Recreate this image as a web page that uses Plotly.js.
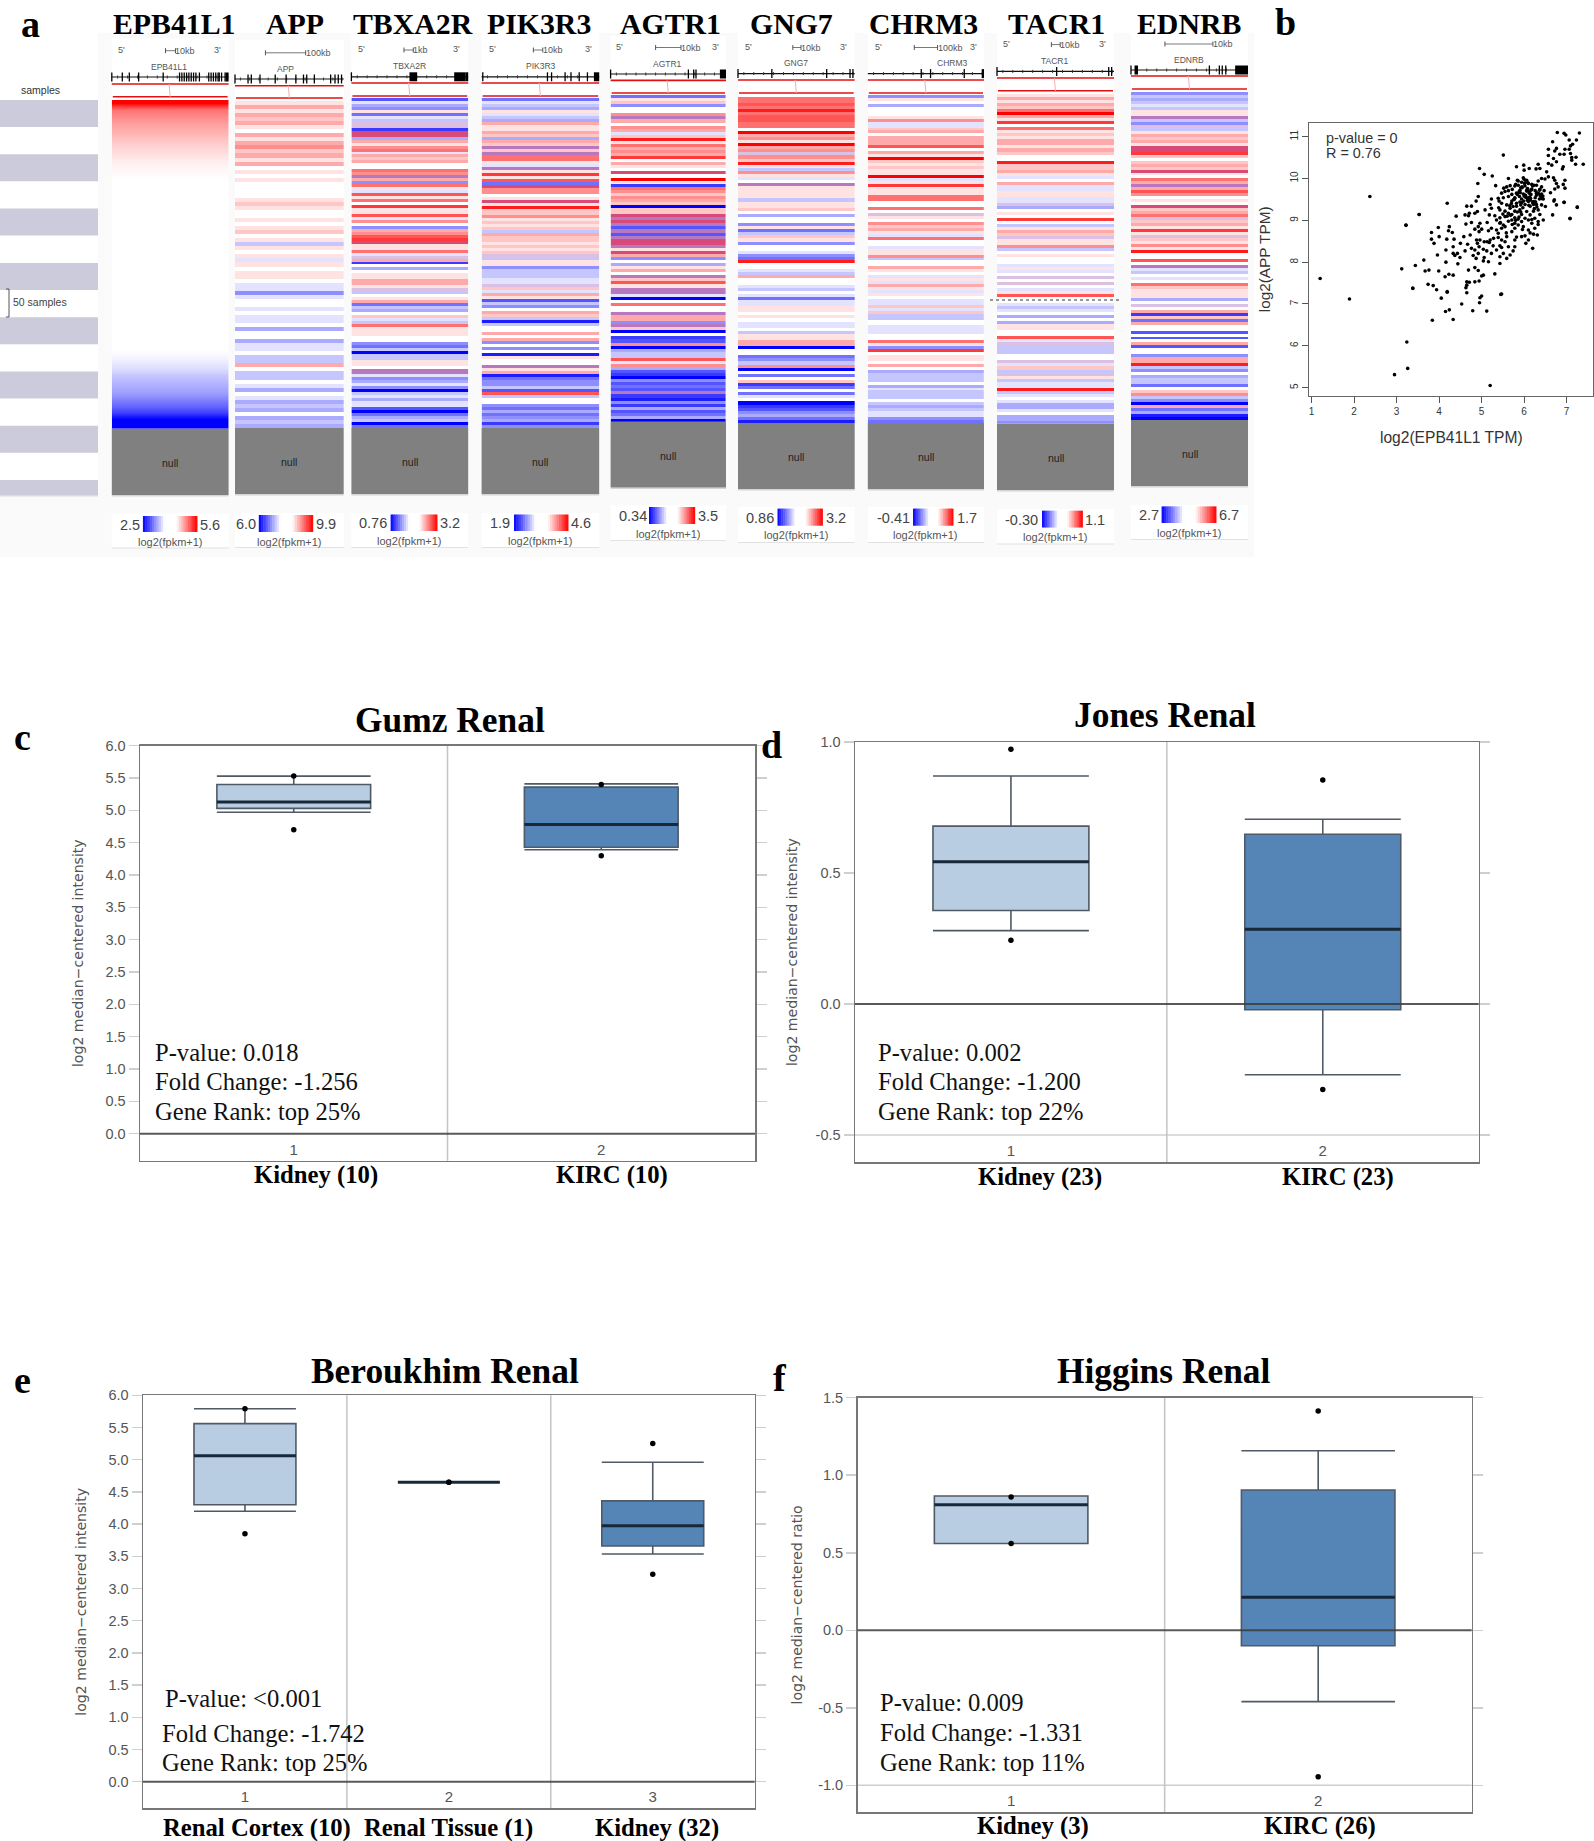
<!DOCTYPE html>
<html><head><meta charset="utf-8">
<script src="https://cdn.plot.ly/plotly-3.0.1.min.js"></script>
<style>html,body{margin:0;padding:0;background:#fff;overflow:hidden}#p{width:1594px;height:1841px}</style>
</head><body><div id="p"></div>
<script>
// ---------- heat stripes (top to bottom; -9 low .. +9 high; 10-12 = mixed, purple-looking rows) ----------
const EPB41L1_rows=[9,5,4.2,3.6,3,2.5,2,1.5,1.1,0.7,0.4,0.2,0,0,0,0,0,0,0,0,0,0,0,0,0,0,0,0,0,0,0,0,0,0,0,0,0,0,0,0,-0.3,-0.7,-1.2,-2,-2.5,-3,-3.6,-4.5,-5.5,-7,-9,-9];
const APP_rows=[1,3,1,3,2,3,1,0,3,1,3,4,2,3,1,3,0,1,0,1,0,0,0,0,1,2,1,0,0,1,0,1,2,0,1,-2,1,0,1,-1,1,0,1,1,0,-1,-1,-4,-1,0,0,-1,0,-1,-1,0,-3,0,0,-3,-1,-1,0,-2,-2,3,0,-2,-2,0,-1,-3,0,-1,-3,-2,-3,0,-3,-2,-3];
const TBXA2R_rows=[-6,-1,-3,-4,1,-5,-1,-2,10,10,-7,12,12,-3,3,1,4,5,-1,3,2,3,0,0,5,4,11,3,-4,5,1,-1,6,1,5,0,7,1,1,6,-1,4,0,-4,3,4,6,7,12,1,1,5,-1,10,3,-7,0,-3,0,1,1,3,3,1,10,-2,0,1,3,-5,-2,-3,0,2,-1,-2,5,1,1,1,0,0,-4,-5,-2,-9,-2,-2,1,1,0,11,11,-1,-4,-3,-1,-4,-9,-2,-1,-3,-1,-1,-6,-9,-5,-3,-2,-9,-5];
const PIK3R3_rows=[-5,-1,-2,-3,1,-1,-2,-3,3,1,1,3,2,-3,3,2,11,2,11,5,5,1,-1,11,1,7,1,6,-5,12,4,4,0,1,12,1,8,2,2,4,1,2,1,2,-2,3,2,2,1,2,1,2,10,-2,1,1,-4,-2,-2,-2,-1,-1,10,2,-1,3,1,-6,-2,-4,0,3,2,-2,-8,-2,0,0,3,0,3,-4,0,-4,0,-8,1,0,0,11,1,3,-8,-5,-4,-4,-2,-6,6,-2,0,0,-4,-5,-3,-5,-4,-3,-7,-4];
const AGTR1_rows=[-5,1,2,-4,0,0,4,11,3,0,4,3,-1,2,8,1,5,3,4,3,7,0,3,1,0,12,0,9,1,-7,5,4,2,4,3,2,-9,2,2,12,11,12,11,-6,11,-6,11,12,12,11,1,12,3,-4,0,-3,1,3,0,11,2,6,1,11,11,-1,-9,0,5,0,0,11,3,3,-4,11,2,-9,0,-7,-6,4,-9,-3,-2,-2,6,-1,4,-3,-6,-7,-9,-4,-6,-5,-6,11,-7,-8,-4,-7,-3,-6,-5,-3,-9];
const GNG7_rows=[5,5,6,5,8,5,6,6,5,5,0,9,3,4,1,9,3,4,10,4,2,8,1,-2,4,1,-1,0,11,1,1,1,1,-2,1,1,2,0,-3,0,0,-4,1,-5,-2,2,1,-4,0,0,-1,-4,-5,8,0,0,-1,-2,3,0,0,-1,-2,0,-1,-5,-1,-1,1,1,0,1,0,-1,-1,0,-2,1,1,3,3,-9,0,0,-5,-4,-2,4,-9,0,-5,0,2,-7,-5,0,-5,-1,0,-9,-7,-6,-4,-3,-5,-8];
const CHRM3_rows=[-4,1,0,-3,0,0,0,1,4,-1,-1,2,3,0,3,3,3,6,0,3,1,9,2,1,2,1,1,9,-1,1,7,1,1,1,5,5,0,0,5,0,10,1,0,4,2,3,1,-1,5,0,0,-1,1,1,4,-2,0,0,3,1,0,-1,1,-1,3,1,-1,1,0,-1,-1,2,-1,2,-2,-2,0,0,-1,-1,-1,0,0,5,1,-4,7,0,1,1,0,3,0,-3,-2,-2,-2,0,-3,-1,-2,-2,-2,0,-2,-3,-2,-1,-1,-4,-5];
const TACR1_rows=[1,3,1,3,2,5,9,3,1,7,0,5,1,2,1,3,3,1,3,2,0,0,8,2,2,3,1,-1,0,3,-1,-1,1,1,-1,-1,10,-3,0,1,0,7,0,-2,1,3,2,10,1,1,4,-2,0,1,0,0,-1,1,-1,0,10,0,10,0,-1,1,6,0,0,-1,-2,-1,0,-3,0,-3,1,1,0,0,6,-1,10,-2,-2,-2,0,0,10,-1,2,-2,10,1,-2,-1,-1,8,-2,-1,0,-1,-3,-3,-1,0,-3,-3,-4];
const EDNRB_rows=[-4,-2,-3,-2,-1,-2,1,1,11,-2,-4,10,-2,1,3,2,3,1,12,12,7,2,0,2,3,2,12,1,0,5,3,11,3,6,4,0,1,0,12,2,3,5,10,2,3,1,7,1,10,2,1,4,1,8,0,0,6,0,11,-1,-2,0,-1,0,5,2,1,1,1,-3,0,10,0,3,-7,2,-5,3,0,0,-6,0,-6,0,3,-6,0,0,-4,3,3,8,-2,-4,0,-3,-2,-2,-5,0,2,4,-2,-4,-9,3,-5,-3,-8,-9];
// ---------- gene list and colour-key labels ----------
const geneNames=["EPB41L1","APP","TBXA2R","PIK3R3","AGTR1","GNG7","CHRM3","TACR1","EDNRB"];
const keyLow=["2.5","6.0","0.76","1.9","0.34","0.86","-0.41","-0.30","2.7"];
const keyHigh=["5.6","9.9","3.2","4.6","3.5","3.2","1.7","1.1","6.7"];
const scaleLabels=["10kb","100kb","1kb","10kb","10kb","10kb","100kb","10kb","10kb"];
// ---------- scatter, panel b ----------
const epb41l1Tpm=[6.78,6.94,6.98,7.30,6.67,7.06,7.23,7.14,7.09,6.57,6.76,6.96,7.06,6.72,6.84,6.94,6.57,7.09,7.12,7.22,7.12,6.69,6.76,7.21,7.39,5.51,4.95,5.06,5.25,4.91,5.82,5.99,6.12,6.0,6.33,6.28,6.37,6.57,6.65,6.92,6.9,6.53,6.57,6.69,6.72,6.76,6.96,6.92,6.80,6.96,6.72,6.62,6.76,6.7,6.94,7.25,7.08,6.67,
5.63,5.98,5.84,6.06,6.41,6.49,6.33,5.33,5.94,6.1,6.18,6.29,5.86,5.59,5.67,5.78,6.02,6.41,5.52,5.9,6.06,6.18,6.26,6.37,6.47,5.63,5.55,5.47,5.82,5.98,6.12,6.29,6.41,5.71,5.39,5.51,5.63,5.78,5.89,5.94,6.04,6.15,6.26,6.36,6.45,5.23,5.41,5.71,6.1,6.22,5.47,5.59,5.82,5.92,6.02,6.14,6.29,6.41,6.5,5.2,5.74,5.4,5.67,5.08,5.23,5.43,5.55,5.78,5.9,6.06,6.22,6.33,5.63,5.71,5.94,6.14,6.37,5.18,5.31,5.43,5.55,5.78,5.86,6.02,6.25,6.45,5.35,5.63,5.71,6.1,6.33,5.94,5.13,5.43,5.51,5.78,6.18,5.86,5.98,5.55,5.23,5.47,5.35,6.25,6.1,5.78,5.71,6.33,5.16,5.39,6.22,6.31,6.02,5.82,5.94,5.2,5.28,5.39,5.59,5.13,5.78,5.47,6.1,5.55,
4.19,3.53,3.22,4.65,4.76,4.87,4.92,4.4,4.61,4.71,4.69,4.84,4.9,4.63,4.76,4.96,4.92,4.84,5.0,4.94,4.24,3.98,4.22,4.31,3.82,4.0,3.82,4.18,4.35,4.58,4.73,3.88,4.33,4.16,4.5,4.67,4.88,4.96,5.06,4.9,4.94,5.18,5.27,5.43,5.63,5.78,5.74,6.04,6.2,4.76,4.84,5.04,5.12,5.23,5.35,5.47,5.51,5.67,5.43,5.59,4.33,4.43,4.37,4.49,3.96,4.61,4.8,4.92,4.87,5.06,5.16,5.04,5.43,4.16,4.44,3.64,3.44,3.12,3.67,3.76,3.99,4.69,4.84,4.92,5.04,5,5.31,4.23,4.33,4.14,4.65,4.71,4.84,4.94,4.65,4.63,3.74,3.86,3.94,3.38,4.19,4.65,5.47,
1.2,1.89,2.37,3.53,3.22,3.38,4.05,4.19,4.15,4.24,3.84,4.33,4.53,4.79,4.95,5.0,4.96,5.12,5.45,3.24,3.26,2.95,5.2,7.08,7.25,6.94,6.71,
6.0,6.08,6.16,5.9,5.97,6.05,6.2,5.84,5.76,5.68,6.12,6.24,5.95,6.03,6.3,5.6,5.72,6.08,5.88,6.18,6.02,5.92,5.8,6.1,5.66,5.5,5.44,5.58,5.96,6.14,
5.72,5.8,5.88,5.95,6.02,6.09,6.16,6.23,6.3,6.38,5.76,5.84,5.92,5.99,6.06,6.13,6.2,6.27,6.34,6.42,5.7,5.78,5.86,5.94,6.01,6.08,6.15,6.22,6.29,6.36,5.82,5.91,6.0,6.11,6.26,6.44];
const appTpm=[11.10,11.08,11.04,11.09,10.88,10.92,10.92,10.82,10.78,10.70,10.72,10.70,10.70,10.66,10.58,10.58,10.55,10.60,10.50,10.51,10.44,10.48,10.40,10.34,10.34,10.56,10.24,10.10,10.06,9.88,10.28,10.32,10.24,10.2,10.34,10.23,10.24,10.36,10.32,10.28,10.23,10.16,10.04,10.02,9.96,9.88,9.96,9.86,9.80,9.77,9.75,9.66,9.37,9.46,9.43,9.32,9.05,9.13,
10.0,10.02,9.96,9.96,10.0,9.99,9.94,9.83,9.91,9.88,9.86,9.84,9.84,9.8,9.83,9.82,9.82,9.8,9.77,9.72,9.72,9.75,9.71,9.74,9.71,9.71,9.69,9.65,9.65,9.63,9.65,9.65,9.63,9.62,9.53,9.54,9.57,9.53,9.57,9.51,9.55,9.53,9.54,9.51,9.51,9.51,9.46,9.46,9.45,9.45,9.41,9.37,9.41,9.37,9.38,9.34,9.38,9.37,9.33,9.38,9.33,9.3,9.29,9.25,9.29,9.25,9.22,9.22,9.25,9.21,9.22,9.25,9.17,9.14,9.14,9.13,9.14,9.13,9.11,9.06,9.09,9.06,9.03,9.05,9.05,9.01,9.01,8.98,9.01,9.01,8.97,8.97,8.95,8.93,8.89,8.93,8.93,8.89,8.85,8.85,8.81,8.81,8.77,8.81,8.77,8.81,8.73,8.9,8.75,8.69,8.67,8.65,8.63,8.6,8.61,8.53,8.57,8.59,8.61,8.49,8.53,8.53,8.53,8.49,
9.41,9.14,8.89,9.34,9.34,9.46,9.57,9.1,9.13,9.17,9.11,9.17,9.21,8.91,8.95,8.93,8.85,8.79,8.79,8.73,8.85,8.83,8.75,8.71,8.71,8.61,8.55,8.55,8.55,8.61,8.65,8.45,8.37,8.29,8.45,8.43,8.53,8.53,8.49,8.45,8.37,8.47,8.39,8.39,8.37,8.37,8.27,8.45,8.33,8.33,8.29,8.31,8.27,8.21,8.29,8.35,8.21,8.17,8.13,8.09,8.21,8.21,8.16,8.11,8.17,8.27,8.16,8.21,8.09,8.11,8.01,8.03,7.97,8.0,7.96,8.05,7.92,7.84,7.79,7.81,7.79,7.81,7.87,7.8,7.69,7.67,7.72,7.71,7.69,7.65,7.53,7.52,7.53,7.55,7.45,7.39,7.47,7.44,7.34,7.38,7.3,7.27,7.24,
7.61,7.12,9.57,9.14,8.88,7.37,7.14,7.28,6.82,6.86,6.61,6.63,7.0,6.84,7.03,7.19,7.15,6.83,7.23,6.09,5.46,5.31,5.05,9.04,9.31,9.43,9.49,
9.58,9.48,9.62,9.44,9.3,9.55,9.42,9.2,9.5,9.12,9.68,9.28,9.78,9.6,9.32,9.1,8.9,9.74,9.08,9.02,9.9,9.2,9.0,9.52,9.35,9.15,8.95,8.7,8.78,8.7,
9.74,9.86,9.68,9.8,9.6,9.9,9.72,9.84,9.66,9.58,9.5,9.62,9.78,9.46,9.7,9.56,9.82,9.44,9.64,9.52,9.4,9.54,9.94,9.42,9.88,9.76,9.48,9.38,9.6,9.72,9.34,9.66,9.98,9.36,9.44,9.58];
// ---------- box plots, panels c-f ----------
const gumzLabels=["Kidney (10)","KIRC (10)"],gumzQ1=[5.03,4.43],gumzMedian=[5.13,4.78],gumzQ3=[5.40,5.36],gumzLow=[4.97,4.39],gumzHigh=[5.53,5.41],gumzDotsHigh=[5.53,5.40],gumzDotsLow=[4.70,4.30];
const jonesLabels=["Kidney (23)","KIRC (23)"],jonesQ1=[0.357,-0.022],jonesMedian=[0.543,0.285],jonesQ3=[0.679,0.648],jonesLow=[0.28,-0.27],jonesHigh=[0.87,0.705],jonesDotsHigh=[0.972,0.855],jonesDotsLow=[0.243,-0.326];
const beroukhimLabels=["Renal Cortex (10)","Renal Tissue (1)","Kidney (32)"],beroukhimQ1=[4.30,4.65,3.66],beroukhimMedian=[5.06,4.65,3.975],beroukhimQ3=[5.56,4.65,4.36],beroukhimLow=[4.20,4.65,3.535],beroukhimHigh=[5.79,4.65,4.96],beroukhimDotsHigh=[5.79,4.65,5.25],beroukhimDotsLow=[3.85,4.65,3.22];
const higginsLabels=["Kidney (3)","KIRC (26)"],higginsQ1=[0.56,-0.10],higginsMedian=[0.81,0.213],higginsQ3=[0.866,0.905],higginsLow=[0.56,-0.46],higginsHigh=[0.866,1.158],higginsDotsHigh=[0.86,1.415],higginsDotsLow=[0.56,-0.945];

const W=1594,H=1841,px=x=>x/W,py=y=>1-y/H;
const traces=[],shapes=[],annotations=[],layout={};
const SERIF="Liberation Serif",SANS="Liberation Sans";
function rect(l,t,r,b,fill,extra){shapes.push(Object.assign({type:'rect',xref:'paper',yref:'paper',x0:px(l),x1:px(r),y0:py(b),y1:py(t),fillcolor:fill,line:{width:0},layer:'below'},extra||{}));}
function line(x0,y0,x1,y1,color,width,extra){shapes.push(Object.assign({type:'line',xref:'paper',yref:'paper',x0:px(x0),x1:px(x1),y0:py(y0),y1:py(y1),line:{color:color,width:width},layer:'below'},extra||{}));}
function text(t,x,y,size,color,o){o=o||{};annotations.push({text:o.bold?'<b>'+t+'</b>':t,xref:'paper',yref:'paper',x:px(x),y:py(y),xanchor:o.anchor||'center',yanchor:'middle',showarrow:false,textangle:o.angle||0,borderpad:0,borderwidth:0,font:{family:o.family||SANS,size:size,color:color}});}

// ---------- panel a: page-level furniture ----------
rect(0,33,1254,557,'#fafafa');
rect(0,33,98,495,'#ffffff');
for(let i=0;i<8;i++){rect(0,100+i*54.3,98,Math.min(100+i*54.3+27,495),'#cbcbdc');}
rect(0,495,98,496.5,'#dddddd');
text('samples',40,90,10.5,'#333');
text('50 samples',13,302,10.5,'#444',{anchor:'left'});
line(6,289,9,289,'#555',1);line(9,289,9,317,'#555',1);line(6,317,9,317,'#555',1);

// geometry of the nine heat columns
const cols=[
 {z:EPB41L1_rows,smooth:'best',l:111.8,r:228.6,card:38.6,blk:77,r1:84,r2:96.8,top:100,bot:428.6,nul:495,c5:.084,c3:.905,s0:.46,s1:.545,sy:50.7,ny:67,nc:.49,ticks:[0,.09,.15,.23,.44,.58,.6,.62,.64,.66,.68,.7,.72,.75,.83,.85,.87,.89,.91,.92,.94,.97],blocks:[[.975,1]],tx:174,kl:130,kb0:142.9,kb1:197,kh:210,ky0:516,ky1:532,ly:542,lc:513.6,ld:547.5},
 {z:APP_rows,l:235,r:343.7,card:40,blk:79,r1:85.7,r2:98,top:101,bot:428,nul:494,c5:null,c3:null,s0:.28,s1:.65,sy:52.8,ny:68.6,nc:.466,ticks:[0,.12,.15,.23,.37,.47,.56,.63,.66,.73,.88,.92,.95,.98],blocks:[],tx:295,kl:245.7,kb0:258.8,kb1:312.7,kh:325.7,ky0:515,ky1:532,ly:541.5,lc:513,ld:547},
 {z:TBXA2R_rows,l:351.4,r:468.2,card:32,blk:76.8,r1:83,r2:96,top:98,bot:428,nul:494,c5:.09,c3:.9,s0:.45,s1:.53,sy:50,ny:66.4,nc:.497,ticks:[0],blocks:[[.497,.563],[.88,.975],[.975,1]],tx:412.6,kl:373,kb0:390.6,kb1:437,kh:450,ky0:514.5,ky1:531,ly:541,lc:513,ld:547},
 {z:PIK3R3_rows,l:481.6,r:599.2,card:32,blk:76.8,r1:83,r2:96,top:98,bot:428,nul:494,c5:.09,c3:.905,s0:.44,s1:.52,sy:50,ny:66.4,nc:.503,ticks:[.01,.56,.595,.71,.76,.83,.90],blocks:[[.955,1]],tx:538.8,kl:500,kb0:514,kb1:568,kh:581,ky0:514.5,ky1:531,ly:541,lc:513,ld:547},
 {z:AGTR1_rows,l:610.6,r:726,card:36,blk:74,r1:80.4,r2:93,top:95,bot:421.7,nul:487.5,c5:.08,c3:.91,s0:.39,s1:.61,sy:47.5,ny:64,nc:.495,ticks:[0,.674,.72,.74],blocks:[[.947,1]],tx:670,kl:632.7,kb0:649,kb1:694.7,kh:708,ky0:507,ky1:524,ly:533.6,lc:505.5,ld:540},
 {z:GNG7_rows,l:738,r:854.7,card:32,blk:73.6,r1:80,r2:93,top:97,bot:423,nul:489,c5:.087,c3:.9,s0:.47,s1:.54,sy:47.5,ny:63.5,nc:.497,ticks:[0,.29,.76,.96,.985],blocks:[],tx:791,kl:760,kb0:777.5,kb1:822.4,kh:836,ky0:508.6,ky1:525.7,ly:535,lc:507,ld:542},
 {z:CHRM3_rows,l:867.8,r:984,card:32,blk:73.6,r1:80,r2:93,top:95,bot:423,nul:489,c5:.088,c3:.91,s0:.40,s1:.60,sy:47.5,ny:63.5,nc:.726,ticks:[.46,.54,.83],blocks:[[.98,1]],tx:923.7,kl:893,kb0:913,kb1:953,kh:966.5,ky0:508.6,ky1:525.7,ly:535,lc:507,ld:542},
 {z:TACR1_rows,l:997,r:1114,card:32,blk:71.4,r1:78,r2:90.7,top:94,bot:423.6,nul:490,c5:.08,c3:.90,s0:.465,s1:.54,sy:44.6,ny:61,nc:.493,ticks:[0,.51,.955,.98],blocks:[],tx:1056,kl:1021.6,kb0:1042,kb1:1082.4,kh:1095,ky0:510.7,ky1:527.5,ly:537,lc:509,ld:543.5},
 {z:EDNRB_rows,l:1131,r:1248,card:31.4,blk:70,r1:76,r2:89,top:92,bot:420,nul:486,c5:null,c3:null,s0:.29,s1:.70,sy:44,ny:59.6,nc:.495,ticks:[0,.67,.755,.78,.81],blocks:[[.03,.06],[.89,1]],tx:1189,kl:1148.6,kb0:1161.6,kb1:1216,kh:1229,ky0:506.4,ky1:523,ly:533,lc:505,ld:539}
];
const heatScale=[[0,'#0000ff'],[9/21,'#ffffff'],[18/21,'#ff0000'],[18.4/21,'#dcc0e4'],[19.4/21,'#dcc0e4'],[19.5/21,'#b878c0'],[20.4/21,'#b878c0'],[20.5/21,'#d84a78'],[1,'#d84a78']];
let axN=1;
function axisNames(){const n=axN++;return {xk:n==1?'xaxis':'xaxis'+n,yk:n==1?'yaxis':'yaxis'+n,x:n==1?'x':'x'+n,y:n==1?'y':'y'+n};}
cols.forEach((c,i)=>{
 const a=axisNames(),W0=c.r-c.l;
 layout[a.xk]={domain:[px(c.l),px(c.r)],range:[-.5,1.5],visible:false,anchor:a.y,fixedrange:true};
 layout[a.yk]={domain:[py(c.bot),py(c.top)],range:[c.z.length-.5,-.5],visible:false,anchor:a.x,fixedrange:true};
 traces.push({type:'heatmap',z:c.z.map(v=>[v,v]),xaxis:a.x,yaxis:a.y,zmin:-9,zmax:12,colorscale:heatScale,showscale:false,zsmooth:c.smooth||false,hoverinfo:'skip'});
 rect(c.l,c.card,c.r,c.nul+1,'#ffffff');
 rect(c.l,c.nul,c.r,c.nul+1.5,'#d4d4d4');
 rect(c.l,c.bot,c.r,c.nul,'#808080');
 text('null',(c.l+c.r)/2,(c.bot+c.nul)/2+1,10.5,'#222');
 line(c.l,c.blk,c.r,c.blk,'#111',1.2);
 for(let f=.05;f<1;f+=.085){line(c.l+f*W0,c.blk-1.5,c.l+f*W0,c.blk+1.5,'#333',1);}
 c.ticks.forEach(f=>line(c.l+f*W0,c.blk-4.5,c.l+f*W0,c.blk+4.5,'#000',1.3));
 c.blocks.forEach(b=>rect(c.l+b[0]*W0,c.blk-4.5,c.l+b[1]*W0,c.blk+4.5,'#000'));
 line(c.l,c.r1,c.r,c.r1,'#e01010',1.6);
 line(c.l+1,c.r2,c.r-1,c.r2,'#e01010',1.6);
 line(c.l+.49*W0,c.r1,c.l+.5*W0,c.r2,'#f4b0b0',1);
 if(c.c5!==null)text("5'",c.l+c.c5*W0,c.sy-1,9,'#555');
 if(c.c3!==null)text("3'",c.l+c.c3*W0,c.sy-1,9,'#555');
 line(c.l+c.s0*W0,c.sy,c.l+c.s1*W0,c.sy,'#555',.8);
 line(c.l+c.s0*W0,c.sy-2.5,c.l+c.s0*W0,c.sy+2.5,'#444',.9);
 line(c.l+c.s1*W0,c.sy-2.5,c.l+c.s1*W0,c.sy+2.5,'#444',.9);
 text(scaleLabels[i],c.l+c.s1*W0,c.sy,9,'#555',{anchor:'left'});
 text(geneNames[i],c.l+c.nc*W0,c.ny,8.5,'#555');
 text(geneNames[i],c.tx,24,29.8,'#000',{family:SERIF,bold:true});
 rect(c.l,c.lc,c.r,c.ld,'#ffffff');
 rect(c.l,c.ld,c.r,c.ld+1,'#e2e2e2');
 const steps=24,kw=(c.kb1-c.kb0)/steps;
 for(let s=0;s<steps;s++){
  const f=(s+.5)/steps;let col;
  if(f<.4){const m=Math.round(255*f/.4);col=`rgb(${m},${m},255)`;}
  else if(f>.62){const m=Math.round(255*(1-f)/.38);col=`rgb(255,${m},${m})`;}
  else col='#ffffff';
  rect(c.kb0+s*kw,c.ky0,c.kb0+(s+1)*kw+.5,c.ky1,col);
 }
 text(keyLow[i],c.kl,(c.ky0+c.ky1)/2+.5,14.5,'#444');
 text(keyHigh[i],c.kh,(c.ky0+c.ky1)/2+.5,14.5,'#444');
 text('log2(fpkm+1)',(c.l+c.r)/2,c.ly,11,'#555');
});
line(990,300,1119.6,300,'#333',1,{layer:'above',line:{color:'#333',width:1,dash:'dot'}});

[['a',30.6,24],['b',1285,21.7],['c',22.7,737],['d',771.5,745],['e',22.7,1380],['f',779.6,1378]].forEach(p=>text(p[0],p[1],p[2],38,'#000',{family:SERIF,bold:true}));

// ---------- panel b: scatter ----------
{
 const a=axisNames();
 layout[a.xk]={domain:[px(1309.3),px(1593.3)],range:[.945,7.627],anchor:a.y,tickvals:[1,2,3,4,5,6,7],ticks:'outside',ticklen:6,tickwidth:1,tickcolor:'#555',tickfont:{family:SANS,size:10,color:'#333'},showgrid:false,zeroline:false,showline:true,linecolor:'#666',linewidth:1,mirror:true,tickangle:0,fixedrange:true,
  title:{text:'log2(EPB41L1 TPM)',font:{family:SANS,size:15.6,color:'#333'},standoff:16}};
 layout[a.yk]={domain:[py(396),py(122.7)],range:[4.80,11.335],anchor:a.x,tickvals:[5,6,7,8,9,10,11],ticks:'outside',ticklen:6,tickwidth:1,tickcolor:'#555',tickfont:{family:SANS,size:10,color:'#333'},tickangle:-90,showgrid:false,zeroline:false,showline:true,linecolor:'#666',linewidth:1,mirror:true,fixedrange:true,
  title:{text:'log2(APP TPM)',font:{family:SANS,size:15.3,color:'#333'},standoff:14}};
 traces.push({type:'scatter',mode:'markers',x:epb41l1Tpm,y:appTpm,xaxis:a.x,yaxis:a.y,marker:{color:'#000',size:3.6},hoverinfo:'skip'});
 text('p-value = 0',1326,137.7,14.4,'#333',{anchor:'left'});
 text('R = 0.76',1326,153.5,14.4,'#333',{anchor:'left'});
}

// ---------- panels c-f: box plots ----------
const LIGHT='#b8cde2',DARK='#5585b6',BL='#4f5a66';
function boxPanel(p){
 const a=axisNames(),n=p.labels.length;
 layout[a.xk]={domain:[px(p.l),px(p.r)],range:[.5,n+.5],anchor:a.y,type:'linear',tickvals:p.labels.map((_,i)=>i+1),ticktext:p.labels.map((_,i)=>String(i+1)),ticklabelposition:'inside',ticklabelstandoff:3,ticks:'',tickfont:{family:SANS,size:15,color:'#555'},showgrid:false,zeroline:false,showline:true,linecolor:'#777',linewidth:1.5,mirror:true,fixedrange:true};
 layout[a.yk]={domain:[py(p.b),py(p.t)],range:p.yr,anchor:a.x,tickvals:p.tv,ticktext:p.tv.map(v=>v.toFixed(1)),ticks:'outside',ticklen:10,tickwidth:1.5,tickcolor:'#cfcfcf',mirror:'ticks',tickfont:{family:SANS,size:14.5,color:'#555'},showgrid:false,zeroline:false,showline:true,linecolor:'#777',linewidth:1.5,fixedrange:true,
  title:{text:p.ytitle,font:{family:'DejaVu Sans',size:14.1,color:'#555'},standoff:p.st}};
 shapes.push({type:'line',xref:a.x+' domain',yref:a.y,x0:0,x1:1,y0:0,y1:0,line:{color:'rgba(60,60,60,.85)',width:2},layer:'above'});
 if(p.ref!==undefined)shapes.push({type:'line',xref:a.x+' domain',yref:a.y,x0:0,x1:1,y0:p.ref,y1:p.ref,line:{color:'#cfcfcf',width:1.5},layer:'below'});
 for(let i=1;i<n;i++)shapes.push({type:'line',xref:a.x,yref:a.y+' domain',x0:i+.5,x1:i+.5,y0:0,y1:1,line:{color:'#c4c4c4',width:1.5},layer:'below'});
 p.labels.forEach((lab,i)=>{
  traces.push({type:'box',x:[i+1],q1:[p.q1[i]],median:[p.med[i]],q3:[p.q3[i]],lowerfence:[p.lo[i]],upperfence:[p.hi[i]],width:.5,whiskerwidth:1,boxpoints:false,xaxis:a.x,yaxis:a.y,fillcolor:p.fills[i],line:{color:BL,width:1.6},hoverinfo:'skip',showlegend:false});
  traces.push({type:'scatter',mode:'lines',x:[i+.75,i+1.25],y:[p.med[i],p.med[i]],xaxis:a.x,yaxis:a.y,line:{color:'#17283a',width:3},hoverinfo:'skip',showlegend:false});
  text(lab,p.labelX[i],p.labelY,24.7,'#000',{family:SERIF,bold:true});
 });
 traces.push({type:'scatter',mode:'markers',x:p.labels.map((_,i)=>i+1),y:p.dotsA,xaxis:a.x,yaxis:a.y,marker:{color:'#000',size:5.5},hoverinfo:'skip',showlegend:false});
 traces.push({type:'scatter',mode:'markers',x:p.labels.map((_,i)=>i+1),y:p.dotsB,xaxis:a.x,yaxis:a.y,marker:{color:'#000',size:5.5},hoverinfo:'skip',showlegend:false});
 text(p.title,p.titleX,p.titleY,35.4,'#000',{family:SERIF,bold:true});
 p.notes.forEach(n=>text(n[0],n[1],n[2],24.6,'#111',{family:SERIF,anchor:'left'}));
}
const y05=[0,.5,1,1.5,2,2.5,3,3.5,4,4.5,5,5.5,6];
boxPanel({l:140,r:755,t:745.7,b:1160.7,yr:[-.418,6],tv:y05,st:18,ytitle:'log2 median\u2212centered intensity',labels:gumzLabels,q1:gumzQ1,med:gumzMedian,q3:gumzQ3,lo:gumzLow,hi:gumzHigh,dotsA:gumzDotsHigh,dotsB:gumzDotsLow,fills:[LIGHT,DARK],labelX:[315.5,611.5],labelY:1175,title:'Gumz Renal',titleX:449.6,titleY:719.5,notes:[['P-value: 0.018',155,1052],['Fold Change: -1.256',155,1081.5],['Gene Rank: top 25%',155,1111]]});
boxPanel({l:855,r:1478.7,t:742,b:1162.3,yr:[-.604,1],tv:[-.5,0,.5,1],ref:-.5,st:14,ytitle:'log2 median\u2212centered intensity',labels:jonesLabels,q1:jonesQ1,med:jonesMedian,q3:jonesQ3,lo:jonesLow,hi:jonesHigh,dotsA:jonesDotsHigh,dotsB:jonesDotsLow,fills:[LIGHT,DARK],labelX:[1039.5,1338],labelY:1176.5,title:'Jones Renal',titleX:1165,titleY:715,notes:[['P-value: 0.002',877.6,1052],['Fold Change: -1.200',877.6,1081.5],['Gene Rank: top 22%',877.6,1111.5]]});
boxPanel({l:143,r:754.7,t:1395.3,b:1808.3,yr:[-.414,6],tv:y05,st:18,ytitle:'log2 median\u2212centered intensity',labels:beroukhimLabels,q1:beroukhimQ1,med:beroukhimMedian,q3:beroukhimQ3,lo:beroukhimLow,hi:beroukhimHigh,dotsA:beroukhimDotsHigh,dotsB:beroukhimDotsLow,fills:[LIGHT,'#c9c9c9',DARK],labelX:[256.5,448.5,657],labelY:1828,title:'Beroukhim Renal',titleX:445,titleY:1370.7,notes:[['P-value: &lt;0.001',165,1698.5],['Fold Change: -1.742',162,1733],['Gene Rank: top 25%',162,1762.5]]});
boxPanel({l:857.6,r:1471.7,t:1397.7,b:1812,yr:[-1.172,1.5],tv:[-1,-.5,0,.5,1,1.5],ref:-1,st:12,ytitle:'log2 median\u2212centered ratio',labels:higginsLabels,q1:higginsQ1,med:higginsMedian,q3:higginsQ3,lo:higginsLow,hi:higginsHigh,dotsA:higginsDotsHigh,dotsB:higginsDotsLow,fills:[LIGHT,DARK],labelX:[1032.5,1319.5],labelY:1825.5,title:'Higgins Renal',titleX:1164.4,titleY:1370.7,notes:[['P-value: 0.009',879.7,1702.5],['Fold Change: -1.331',879.7,1732.5],['Gene Rank: top 11%',879.7,1762]]});

Object.assign(layout,{width:W,height:H,margin:{l:0,r:0,t:0,b:0,pad:0},paper_bgcolor:'#ffffff',plot_bgcolor:'rgba(0,0,0,0)',showlegend:false,boxmode:'overlay',shapes:shapes,annotations:annotations});
Plotly.newPlot('p',traces,layout,{displayModeBar:false,staticPlot:true});
</script></body></html>
